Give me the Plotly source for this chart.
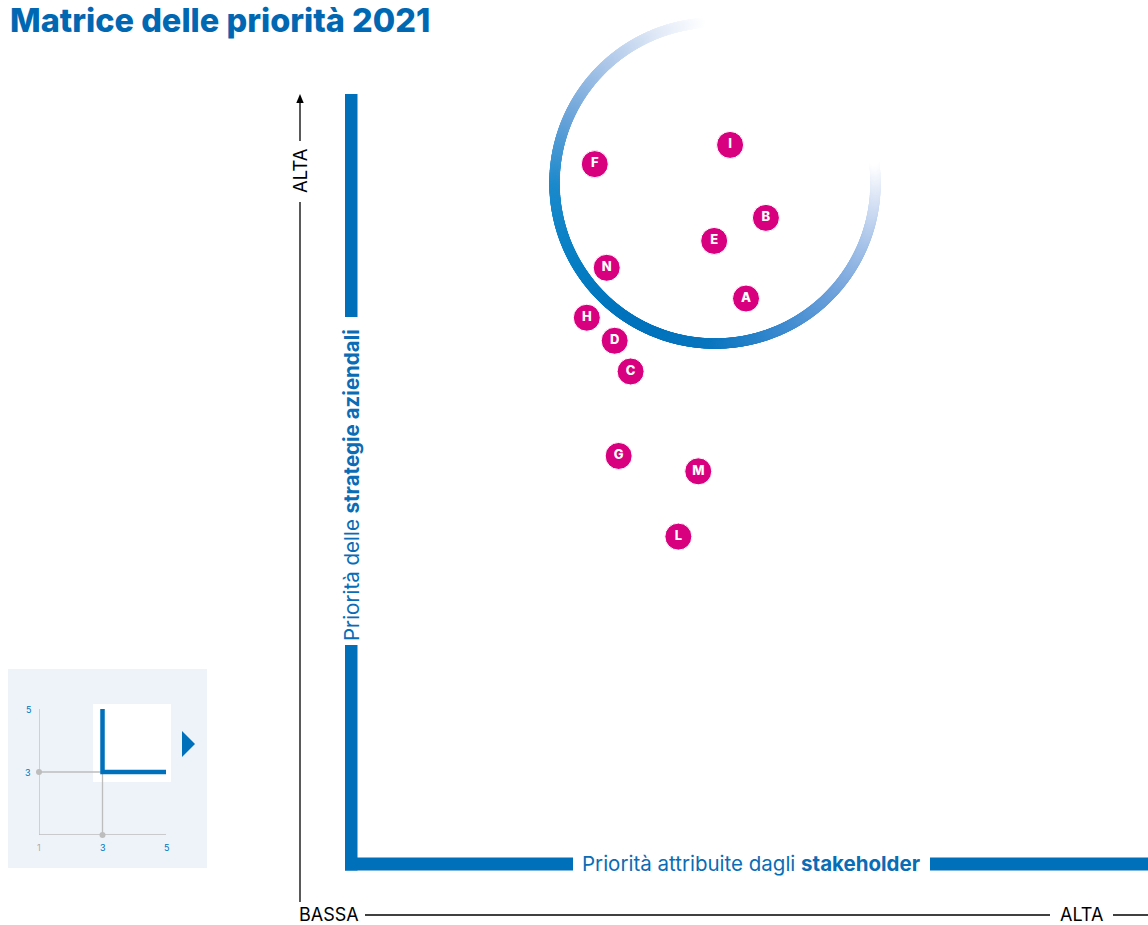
import numpy as np
import plotly.graph_objects as go

W, H = 1148, 925

# ---------------- data ----------------
topics = ["A", "B", "C", "D", "E", "F", "G", "H", "I", "L", "M", "N"]
stakeholder_priority = [3.99, 4.04, 3.70, 3.66, 3.91, 3.61, 3.67, 3.59, 3.95, 3.82, 3.87, 3.64]
strategy_priority = [4.47, 4.68, 4.28, 4.36, 4.62, 4.82, 4.06, 4.42, 4.87, 3.85, 4.02, 4.55]

inset_ticks = [1, 3, 5]
inset_x_labels = ["1", "3", "5"]
inset_y_labels = ["", "3", "5"]
threshold = 3
view_max = 5

title_text = "Matrice delle priorità 2021"
x_title = "Priorità attribuite dagli <b>stakeholder</b>"
y_title = "Priorità delle <b>strategie aziendali</b>"
low_label = "BASSA"
high_label = "ALTA"

# ---------------- styles ----------------
BLUE = "#0070bb"
TEXT_BLUE = "#0a6cb5"
PINK = "#d9007f"
FONT = "Inter"

# pixel anchors of the main view (threshold -> view_max)
X0PX, X1PX = 352, 1148
Y0PX, Y1PX = 863, 95
sx = (view_max - threshold) / (X1PX - X0PX)
sy = (view_max - threshold) / (Y0PX - Y1PX)
x_range = [threshold - X0PX * sx, threshold + (W - X0PX) * sx]
y_range = [threshold - (H - Y0PX) * sy, threshold + Y0PX * sy]


def px2x(p):
    return threshold + (np.asarray(p) - X0PX) * sx


def px2y(p):
    return threshold + (Y0PX - np.asarray(p)) * sy


def px(p):
    return p / W


def py(p):
    return 1 - p / H


fig = go.Figure()

# ---- gradient ring (decoration) ----
theta = np.linspace(95, 368, 1100)
stops_t = [95, 112, 135, 158, 182, 210, 240, 270, 295, 318, 338, 356, 368]
stops_c = np.array([
    [255, 255, 255], [226, 234, 247], [170, 197, 232], [105, 163, 217],
    [28, 138, 204], [8, 127, 196], [0, 114, 188], [10, 118, 191],
    [58, 137, 207], [110, 161, 219], [164, 193, 232], [218, 228, 245],
    [255, 255, 255]])
cols = []
for t in theta:
    rgb = [np.interp(t, stops_t, stops_c[:, k]) for k in range(3)]
    cols.append("rgb(%d,%d,%d)" % tuple(int(round(v)) for v in rgb))
cxp, cyp, rp = 715, 183, 160.5
ring_x = px2x(cxp + rp * np.cos(np.radians(theta)))
ring_y = px2y(cyp - rp * np.sin(np.radians(theta)))
fig.add_trace(go.Scatter(x=ring_x, y=ring_y, mode="markers",
                         marker=dict(size=10.5, color=cols, line=dict(width=0)),
                         hoverinfo="skip", showlegend=False))

# ---- topic points ----
fig.add_trace(go.Scatter(
    x=stakeholder_priority, y=strategy_priority, mode="markers+text",
    text=topics, textposition="middle center",
    textfont=dict(family=FONT, size=13, color="white", weight=800),
    marker=dict(size=27, color=PINK, line=dict(width=1, color="white")),
    showlegend=False, hoverinfo="text"))

# ---- inset schematic (own axes 1..5) ----
gray = "#bdbdbd"
fig.add_trace(go.Scatter(x=[inset_ticks[0], inset_ticks[0], inset_ticks[-1]],
                         y=[inset_ticks[-1], inset_ticks[0], inset_ticks[0]],
                         mode="lines", line=dict(color=gray, width=1.3),
                         xaxis="x3", yaxis="y3", hoverinfo="skip", showlegend=False))
fig.add_trace(go.Scatter(x=[inset_ticks[0], threshold, threshold],
                         y=[threshold, threshold, inset_ticks[0]],
                         mode="lines", line=dict(color=gray, width=1.3),
                         xaxis="x3", yaxis="y3", hoverinfo="skip", showlegend=False))
fig.add_trace(go.Scatter(x=[inset_ticks[0], threshold], y=[threshold, inset_ticks[0]],
                         mode="markers", marker=dict(color=gray, size=6),
                         xaxis="x3", yaxis="y3", hoverinfo="skip", showlegend=False,
                         cliponaxis=False))
fig.add_trace(go.Scatter(x=[threshold, threshold, view_max], y=[view_max, threshold, threshold],
                         mode="lines", line=dict(color=BLUE, width=4.5),
                         xaxis="x3", yaxis="y3", hoverinfo="skip", showlegend=False))

annotations = []
for v, lab in zip(inset_ticks, inset_x_labels):
    annotations.append(dict(x=v, y=inset_ticks[0], xref="x3", yref="y3", text=lab,
                            showarrow=False, yshift=-12, xanchor="center", yanchor="middle",
                            font=dict(family=FONT, size=9, color="#aaaaaa" if v == inset_ticks[0] else BLUE)))
for v, lab in zip(inset_ticks, inset_y_labels):
    if lab:
        annotations.append(dict(x=inset_ticks[0], y=v, xref="x3", yref="y3", text=lab,
                                showarrow=False, xshift=-11, xanchor="center", yanchor="middle",
                                font=dict(family=FONT, size=9, color=BLUE)))

# ---- texts ----
annotations += [
    dict(x=px(8), y=py(20), xref="paper", yref="paper", xanchor="left", yanchor="middle",
         text=title_text, showarrow=False,
         font=dict(family=FONT, size=32.5, color="#0068b3", weight=800)),
    dict(x=px(300), y=py(171), xref="paper", yref="paper", text=high_label, textangle=-90,
         xanchor="center", yanchor="middle",
         showarrow=False, font=dict(family=FONT, size=18.5, color="black")),
    dict(x=px(297), y=py(914), xref="paper", yref="paper", xanchor="left", yanchor="middle",
         text=low_label, showarrow=False, font=dict(family=FONT, size=18, color="black")),
    dict(x=px(1081.5), y=py(914), xref="paper", yref="paper", text=high_label,
         xanchor="center", yanchor="middle",
         showarrow=False, font=dict(family=FONT, size=18, color="black")),
    dict(x=px(751), y=py(863), xref="paper", yref="paper", text=x_title,
         xanchor="center", yanchor="middle",
         showarrow=False, font=dict(family=FONT, size=20.5, color=TEXT_BLUE)),
    dict(x=px(351), y=py(485), xref="paper", yref="paper", text=y_title, textangle=-90,
         xanchor="center", yanchor="middle",
         showarrow=False, font=dict(family=FONT, size=20.5, color=TEXT_BLUE)),
]

# ---- shapes ----
def rect(x0, y0, x1, y1, color, layer="above"):
    return dict(type="rect", xref="paper", yref="paper", x0=px(x0), x1=px(x1),
                y0=py(y1), y1=py(y0), fillcolor=color, line=dict(width=0), layer=layer)


def line(x0, y0, x1, y1, color="black", width=1.3):
    return dict(type="line", xref="paper", yref="paper", x0=px(x0), x1=px(x1),
                y0=py(y0), y1=py(y1), line=dict(color=color, width=width), layer="below")


def poly(pts, color):
    path = "M " + " L ".join("%f,%f" % (px(a), py(b)) for a, b in pts) + " Z"
    return dict(type="path", xref="paper", yref="paper", path=path,
                fillcolor=color, line=dict(width=0), layer="below")


shapes = [
    # inset background
    rect(8, 669, 207, 868, "#eef3fa", layer="below"),
    rect(93, 704, 171, 782, "white", layer="below"),
    poly([(182, 731), (195, 744), (182, 757)], BLUE),
    # thin black reference axes
    line(300, 101, 300, 141),
    line(300, 202, 300, 902),
    poly([(300, 94), (296.3, 103), (303.7, 103)], "black"),
    line(365, 915, 1050, 915),
    line(1113, 915, 1148, 915),
    # thick blue L
    rect(345, 94, 357.5, 317, BLUE, layer="below"),
    rect(345, 645, 357.5, 870.5, BLUE, layer="below"),
    rect(345, 857.5, 573, 870.5, BLUE, layer="below"),
    rect(930, 857.5, 1148, 870.5, BLUE, layer="below"),
]

fig.update_layout(
    width=W, height=H, autosize=False,
    margin=dict(l=0, r=0, t=0, b=0, pad=0),
    paper_bgcolor="white", plot_bgcolor="rgba(0,0,0,0)",
    showlegend=False,
    xaxis=dict(domain=[0, 1], range=x_range, visible=False, fixedrange=True),
    yaxis=dict(domain=[0, 1], range=y_range, visible=False, fixedrange=True),
    xaxis3=dict(domain=[px(39), px(166)], range=[inset_ticks[0], inset_ticks[-1]],
                visible=False, anchor="y3", fixedrange=True),
    yaxis3=dict(domain=[py(835), py(709)], range=[inset_ticks[0], inset_ticks[-1]],
                visible=False, anchor="x3", fixedrange=True),
    annotations=annotations,
    shapes=shapes,
)

fig.write_html("out.html", config={"displayModeBar": False},
               post_script="document.body.style.margin='0';document.body.style.overflow='hidden';")
